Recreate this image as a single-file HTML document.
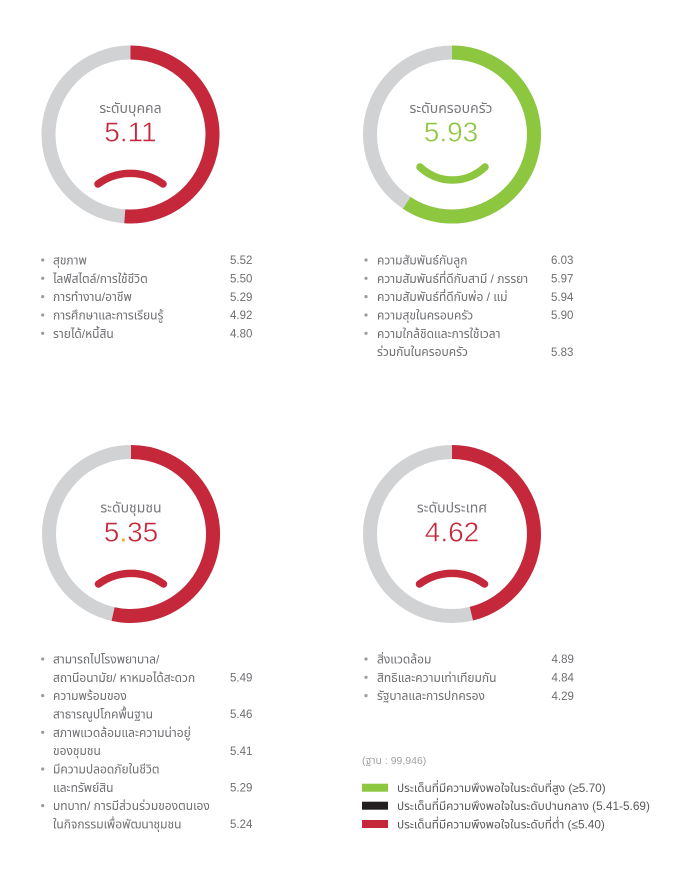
<!DOCTYPE html>
<html>
<head>
<meta charset="utf-8">
<style>
  html,body{margin:0;padding:0;background:#fff;}
  body{width:674px;height:880px;overflow:hidden;}
  svg{display:block;}
  text{font-family:"Liberation Sans","Noto Sans Thai","Tlwg Typist","Garuda","Loma","DejaVu Sans","Noto Sans CJK SC",sans-serif;}
  .t{font-size:14px;fill:#76777a;}
  .n{font-size:28px;stroke:#fff;stroke-width:0.5;}
  .li{font-size:12px;fill:#6d6e71;}
  .v{font-size:11.5px;fill:#6d6e71;}
  .lg{font-size:11.8px;fill:#58595b;}
</style>
</head>
<body>
<svg width="674" height="880" viewBox="0 0 674 880" xmlns="http://www.w3.org/2000/svg">
  <!-- Chart 1 -->
  <circle cx="130.5" cy="134.5" r="82" fill="none" stroke="#d1d2d4" stroke-width="14"/>
  <path d="M130.5 52.5 A82 82 0 1 1 124.78 216.3" fill="none" stroke="#c4283a" stroke-width="14"/>
  <text class="t" x="130.5" y="113" text-anchor="middle">ระดับบุคคล</text>
  <text class="n" x="130.5" y="141.7" text-anchor="middle" fill="#c4283a">5.11</text>
  <path d="M98 184 A55 55 0 0 1 163 184" fill="none" stroke="#c4283a" stroke-width="7.5" stroke-linecap="round"/>

  <!-- Chart 2 -->
  <circle cx="452" cy="134.5" r="82" fill="none" stroke="#d1d2d4" stroke-width="14"/>
  <path d="M452 52.5 A82 82 0 1 1 406.76 202.9" fill="none" stroke="#8dc63f" stroke-width="14"/>
  <text class="t" x="451" y="113" text-anchor="middle">ระดับครอบครัว</text>
  <text class="n" x="451" y="141.7" text-anchor="middle" fill="#8dc63f">5.93</text>
  <path d="M420 167 A47 47 0 0 0 485 167" fill="none" stroke="#8dc63f" stroke-width="7.5" stroke-linecap="round"/>

  <!-- Chart 3 -->
  <circle cx="131" cy="534" r="82" fill="none" stroke="#d1d2d4" stroke-width="14"/>
  <path d="M131 452 A82 82 0 1 1 113.12 614.02" fill="none" stroke="#c4283a" stroke-width="14"/>
  <text class="t" x="131" y="512.5" text-anchor="middle">ระดับชุมชน</text>
  <text class="n" x="131" y="541.7" text-anchor="middle" fill="#c4283a">5<tspan fill="#f7a823" stroke="none">.</tspan>35</text>
  <path d="M98.5 584 A55 55 0 0 1 163.5 584" fill="none" stroke="#c4283a" stroke-width="7.5" stroke-linecap="round"/>

  <!-- Chart 4 -->
  <circle cx="452" cy="534" r="82" fill="none" stroke="#d1d2d4" stroke-width="14"/>
  <path d="M452 452 A82 82 0 0 1 471.39 613.67" fill="none" stroke="#c4283a" stroke-width="14"/>
  <text class="t" x="452" y="512.5" text-anchor="middle">ระดับประเทศ</text>
  <text class="n" x="452" y="541.7" text-anchor="middle" fill="#c4283a">4.62</text>
  <path d="M419.5 584 A55 55 0 0 1 484.5 584" fill="none" stroke="#c4283a" stroke-width="7.5" stroke-linecap="round"/>

  <!-- List 1 -->
  <g fill="#9a9b9d">
    <circle cx="42.7" cy="260" r="1.6"/>
    <circle cx="42.7" cy="278.3" r="1.6"/>
    <circle cx="42.7" cy="296.6" r="1.6"/>
    <circle cx="42.7" cy="315" r="1.6"/>
    <circle cx="42.7" cy="333.3" r="1.6"/>
  </g>
  <text class="li" x="53" y="264.5">สุขภาพ</text>
  <text class="li" x="53" y="282.8">ไลฟ์สไตล์/การใช้ชีวิต</text>
  <text class="li" x="53" y="301.1">การทำงาน/อาชีพ</text>
  <text class="li" x="53" y="319.5">การศึกษาและการเรียนรู้</text>
  <text class="li" x="53" y="337.8">รายได้/หนี้สิน</text>
  <text class="v" x="230" y="264.2">5.52</text>
  <text class="v" x="230" y="282.5">5.50</text>
  <text class="v" x="230" y="300.8">5.29</text>
  <text class="v" x="230" y="319.2">4.92</text>
  <text class="v" x="230" y="337.5">4.80</text>

  <!-- List 2 -->
  <g fill="#9a9b9d">
    <circle cx="366" cy="260" r="1.6"/>
    <circle cx="366" cy="278.3" r="1.6"/>
    <circle cx="366" cy="296.6" r="1.6"/>
    <circle cx="366" cy="315" r="1.6"/>
    <circle cx="366" cy="333.3" r="1.6"/>
  </g>
  <text class="li" x="377" y="264.5">ความสัมพันธ์กับลูก</text>
  <text class="li" x="377" y="282.8">ความสัมพันธ์ที่ดีกับสามี / ภรรยา</text>
  <text class="li" x="377" y="301.1">ความสัมพันธ์ที่ดีกับพ่อ / แม่</text>
  <text class="li" x="377" y="319.5">ความสุขในครอบครัว</text>
  <text class="li" x="377" y="337.8">ความใกล้ชิดและการใช้เวลา</text>
  <text class="li" x="377" y="356.1">ร่วมกันในครอบครัว</text>
  <text class="v" x="551" y="264.2">6.03</text>
  <text class="v" x="551" y="282.5">5.97</text>
  <text class="v" x="551" y="300.8">5.94</text>
  <text class="v" x="551" y="319.2">5.90</text>
  <text class="v" x="551" y="355.8">5.83</text>

  <!-- List 3 -->
  <g fill="#9a9b9d">
    <circle cx="42.7" cy="659" r="1.6"/>
    <circle cx="42.7" cy="695.6" r="1.6"/>
    <circle cx="42.7" cy="732.3" r="1.6"/>
    <circle cx="42.7" cy="769" r="1.6"/>
    <circle cx="42.7" cy="805.6" r="1.6"/>
  </g>
  <text class="li" x="53" y="663.5">สามารถไปโรงพยาบาล/</text>
  <text class="li" x="53" y="681.8">สถานีอนามัย/ หาหมอได้สะดวก</text>
  <text class="li" x="53" y="700.1">ความพร้อมของ</text>
  <text class="li" x="53" y="718.5">สาธารณูปโภคพื้นฐาน</text>
  <text class="li" x="53" y="736.8">สภาพแวดล้อมและความน่าอยู่</text>
  <text class="li" x="53" y="755.1">ของชุมชน</text>
  <text class="li" x="53" y="773.5">มีความปลอดภัยในชีวิต</text>
  <text class="li" x="53" y="791.8">และทรัพย์สิน</text>
  <text class="li" x="53" y="810.1">บทบาท/ การมีส่วนร่วมของตนเอง</text>
  <text class="li" x="53" y="828.5">ในกิจกรรมเพื่อพัฒนาชุมชน</text>
  <text class="v" x="230" y="681.5">5.49</text>
  <text class="v" x="230" y="718.2">5.46</text>
  <text class="v" x="230" y="754.8">5.41</text>
  <text class="v" x="230" y="791.5">5.29</text>
  <text class="v" x="230" y="828.2">5.24</text>

  <!-- List 4 -->
  <g fill="#9a9b9d">
    <circle cx="366" cy="659" r="1.6"/>
    <circle cx="366" cy="677.3" r="1.6"/>
    <circle cx="366" cy="695.6" r="1.6"/>
  </g>
  <text class="li" x="377" y="663.5">สิ่งแวดล้อม</text>
  <text class="li" x="377" y="681.8">สิทธิและความเท่าเทียมกัน</text>
  <text class="li" x="377" y="700.1">รัฐบาลและการปกครอง</text>
  <text class="v" x="551.5" y="663.2">4.89</text>
  <text class="v" x="551.5" y="681.5">4.84</text>
  <text class="v" x="551.5" y="699.8">4.29</text>

  <!-- Base note -->
  <text x="362" y="764" font-size="10.5" fill="#a0a1a3">(ฐาน : 99,946)</text>

  <!-- Legend -->
  <rect x="362" y="783.7" width="26" height="8" fill="#8dc63f"/>
  <rect x="362" y="801.7" width="26" height="8" fill="#231f20"/>
  <rect x="362" y="820" width="26" height="8" fill="#c4283a"/>
  <text class="lg" x="397" y="792.1">ประเด็นที่มีความพึงพอใจในระดับที่สูง  (≥5.70)</text>
  <text class="lg" x="397" y="810.1">ประเด็นที่มีความพึงพอใจในระดับปานกลาง (5.41-5.69)</text>
  <text class="lg" x="397" y="828.4">ประเด็นที่มีความพึงพอใจในระดับที่ต่ำ (≤5.40)</text>
</svg>
</body>
</html>
